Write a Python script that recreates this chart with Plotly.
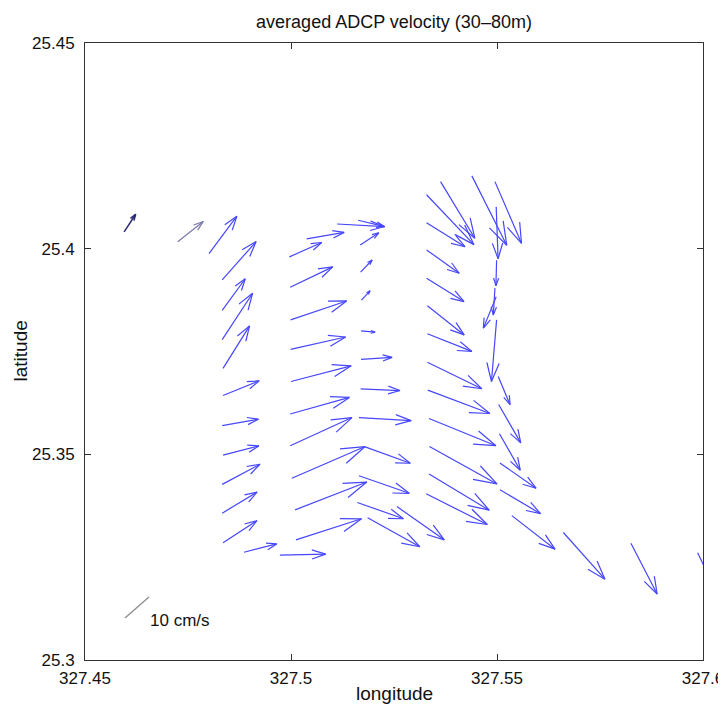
import plotly.graph_objects as go

# Arrow tails (longitude, latitude) and averaged velocity components (cm/s)
lon = [327.4595, 327.4725, 327.4801, 327.4833, 327.4833, 327.4833, 327.4835, 327.4835,
       327.4833, 327.4835, 327.4833, 327.4833, 327.4835, 327.4886,
       327.4996, 327.5038, 327.4998, 327.4999, 327.4999, 327.5000, 327.4998, 327.4998,
       327.5002, 327.5010, 327.5012, 327.4973,
       327.5112, 327.5163, 327.5168, 327.5169, 327.5171, 327.5170, 327.5170, 327.5169,
       327.5165, 327.5180, 327.5165, 327.5161, 327.5186, 327.5257,
       327.5363, 327.5329, 327.5329, 327.5329, 327.5329, 327.5331, 327.5331, 327.5331,
       327.5332, 327.5335, 327.5336, 327.5335, 327.5328,
       327.5439, 327.5495, 327.5498, 327.5499, 327.5495, 327.5498, 327.5499, 327.5503,
       327.5504, 327.5506, 327.5507, 327.5507, 327.5536, 327.5661, 327.5825, 327.5987]
lat = [25.4041, 25.4017, 25.3988, 25.3924, 25.3850, 25.3779, 25.3709, 25.3643,
       25.3570, 25.3498, 25.3427, 25.3357, 25.3285, 25.3262,
       25.3980, 25.4024, 25.3906, 25.3827, 25.3755, 25.3677, 25.3598, 25.3521,
       25.3442, 25.3365, 25.3292, 25.3255,
       25.4060, 25.4069, 25.4009, 25.3943, 25.3875, 25.3800, 25.3731, 25.3659,
       25.3589, 25.3518, 25.3448, 25.3383, 25.3346, 25.3373,
       25.4163, 25.4131, 25.4063, 25.3997, 25.3928, 25.3861, 25.3793, 25.3724,
       25.3656, 25.3587, 25.3519, 25.3452, 25.3404,
       25.4177, 25.4163, 25.4102, 25.3972, 25.3904, 25.3883, 25.3827, 25.3689,
       25.3621, 25.3550, 25.3479, 25.3414, 25.3351, 25.3310, 25.3284, 25.3261]
u = [3.6, 8.0, 8.7, 10.6, 7.2, 9.5, 8.3, 11.3, 11.3, 11.2, 11.8, 10.9, 10.6, 10.2,
     10.1, 11.7, 13.3, 17.5, 17.2, 18.8, 18.5, 19.3, 22.9, 22.4, 20.5, 14.3,
     14.8, 8.3, 5.8, 3.6, 2.7, 4.4, 9.7, 12.3, 16.3, 14.1, 15.7, 14.4, 16.3, 14.8,
     10.7, 14.8, 12.0, 10.2, 11.7, 11.5, 13.9, 17.0, 19.4, 20.9, 21.1, 18.8, 19.1,
     10.9, 8.3, 0.6, -0.2, -0.5, -4.0, -1.6, 3.7, 6.9, 6.5, 11.3, 12.7, 13.5, 13.0, 8.2, 6.9]
v = [5.5, 6.3, 11.7, 12.0, 9.9, 14.5, 13.3, 4.6, 2.0, 2.9, 6.3, 6.6, 6.9, 2.6,
     4.5, 2.0, 6.4, 5.9, 3.9, 4.9, 5.2, 8.8, 9.9, 8.7, 6.6, 0.3,
     -0.8, -2.0, 3.8, 3.8, 2.9, -0.4, 0.6, -0.5, -0.9, -5.1, -5.5, -5.1, -9.1, -10.4,
     -17.7, -15.6, -7.5, -7.3, -7.3, -9.1, -5.5, -8.3, -7.3, -8.5, -11.7, -11.3, -9.6,
     -21.7, -19.3, -16.3, -8.0, -8.4, -9.8, -19.3, -8.8, -12.0, -11.4, -7.9, -7.5,
     -10.5, -14.6, -15.9, -14.4]

# Reference vector (10 cm/s)
ref_lon = [327.4597]
ref_lat = [25.3102]
ref_u = [7.5]
ref_v = [6.6]
ref_label = "10 cm/s"

x_ticks = [327.45, 327.5, 327.55, 327.6]
x_ticklabels = ["327.45", "327.5", "327.55", "327.6"]
y_ticks = [25.3, 25.35, 25.4, 25.45]
y_ticklabels = ["25.3", "25.35", "25.4", "25.45"]

K = 0.000777   # degrees per cm/s
A, B = 0.30, 0.33  # arrow-head proportions (MATLAB quiver style)


def arrows(lons, lats, us, vs, heads=True):
    xs, ys = [], []
    for x0, y0, uu, vv in zip(lons, lats, us, vs):
        du, dv = uu * K, vv * K
        x1, y1 = x0 + du, y0 + dv
        xs += [x0, x1, None]
        ys += [y0, y1, None]
        if heads:
            xs += [x1 - A * (du + B * dv), x1, x1 - A * (du - B * dv), None]
            ys += [y1 - A * (dv - B * du), y1, y1 - A * (dv + B * du), None]
    return xs, ys


fig = go.Figure()
blue = "rgb(70,70,255)"
ax, ay = arrows(lon[2:], lat[2:], u[2:], v[2:])
fig.add_trace(go.Scatter(x=ax, y=ay, mode="lines", line=dict(color=blue, width=1.2),
                         hoverinfo="skip", showlegend=False))
ax, ay = arrows(lon[1:2], lat[1:2], u[1:2], v[1:2])
fig.add_trace(go.Scatter(x=ax, y=ay, mode="lines", line=dict(color="rgb(120,120,170)", width=1.2),
                         hoverinfo="skip", showlegend=False))
ax, ay = arrows(lon[0:1], lat[0:1], u[0:1], v[0:1])
fig.add_trace(go.Scatter(x=ax, y=ay, mode="lines", line=dict(color="rgb(40,40,120)", width=1.5),
                         hoverinfo="skip", showlegend=False))
ax, ay = arrows(ref_lon, ref_lat, ref_u, ref_v, heads=False)
fig.add_trace(go.Scatter(x=ax, y=ay, mode="lines", line=dict(color="rgb(140,140,140)", width=1.3),
                         hoverinfo="skip", showlegend=False))

font = "Liberation Sans, Arial, Helvetica, sans-serif"
fig.add_annotation(x=327.4653, y=25.3095, xref="x", yref="y", text=ref_label,
                   showarrow=False, xanchor="left", yanchor="middle",
                   font=dict(family=font, size=17, color="#111"))
fig.add_annotation(x=0.5, y=0, xref="paper", yref="paper", text="longitude",
                   showarrow=False, xanchor="center", yanchor="middle", yshift=-33,
                   font=dict(family=font, size=19, color="#111"))
fig.add_annotation(x=0, y=0.5, xref="paper", yref="paper", text="latitude",
                   showarrow=False, xanchor="center", yanchor="middle", xshift=-65,
                   textangle=-90, font=dict(family=font, size=19, color="#111"))

axis_common = dict(showgrid=False, zeroline=False, showline=True, linecolor="#333",
                   linewidth=1, mirror="ticks", ticks="inside", ticklen=6,
                   tickcolor="#333", automargin=False,
                   tickfont=dict(family=font, size=17, color="#111"))
fig.update_xaxes(range=[327.45, 327.6], tickvals=x_ticks, ticktext=x_ticklabels,
                 ticklabelstandoff=3, **axis_common)
fig.update_yaxes(range=[25.3, 25.45], tickvals=y_ticks, ticktext=y_ticklabels,
                 ticklabelstandoff=6, **axis_common)

# The page body has an 8px margin, so the figure is sized/margined to place the
# plot area at the same window pixels as the reference.
fig.update_layout(
    width=718, height=699,
    margin=dict(l=77, r=23, t=35, b=47),
    paper_bgcolor="white", plot_bgcolor="white",
    title=dict(text="averaged ADCP velocity (30–80m)", x=0.5, xref="paper",
               y=1 - 14 / 699, yref="container", xanchor="center", yanchor="middle",
               font=dict(family=font, size=18, color="#111")),
    hovermode=False,
)

fig.write_html("out.html")
